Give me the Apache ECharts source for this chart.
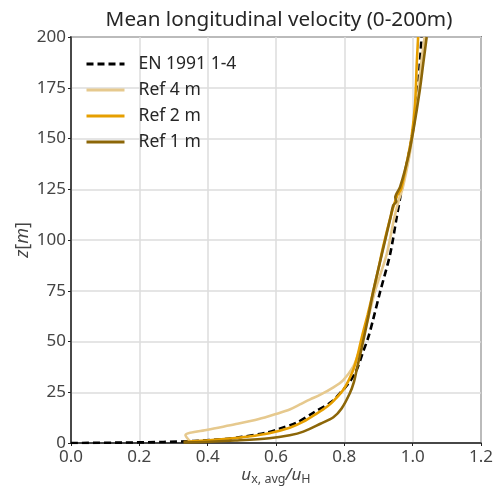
<!DOCTYPE html>
<html>
<head>
<meta charset="utf-8">
<script src="https://cdn.jsdelivr.net/npm/echarts@6/dist/echarts.min.js"></script>
<style>html,body{margin:0;padding:0;background:#fff}#c{width:494px;height:493px}</style>
</head>
<body>
<div id="c"></div>
<script>
// Data: [u/uH, z]
const xTicks = [0.0, 0.2, 0.4, 0.6, 0.8, 1.0, 1.2];
const yTicks = [0, 25, 50, 75, 100, 125, 150, 175, 200];
const seriesNames = ['EN 1991 1-4', 'Ref 4 m', 'Ref 2 m', 'Ref 1 m'];

const en1991 = [
  [0.0, 0], [0.15, 0.2], [0.27, 0.5], [0.36, 1], [0.45, 2], [0.50, 3], [0.57, 5], [0.61, 7],
  [0.66, 10], [0.71, 15], [0.76, 20], [0.79, 25], [0.815, 30], [0.836, 36], [0.855, 45],
  [0.870, 52], [0.883, 60], [0.904, 74], [0.934, 93], [0.953, 111], [0.968, 125],
  [0.997, 150], [1.013, 170], [1.021, 187], [1.026, 200]
];
const ref4 = [
  [0.35, 0.5], [0.335, 3.8], [0.40, 6.5], [0.48, 9.2], [0.55, 11.8], [0.60, 14.3], [0.64, 16.5],
  [0.67, 19], [0.70, 21.5], [0.73, 23.8], [0.768, 27.4], [0.797, 31], [0.826, 37.6], [0.841, 44],
  [0.852, 51], [0.872, 63], [0.89, 75], [0.924, 93], [0.945, 110], [0.96, 120], [0.97, 125],
  [0.99, 141], [1.0, 152], [1.015, 170], [1.025, 187], [1.035, 200]
];
const ref2 = [
  [0.33, 0.5], [0.44, 1.8], [0.52, 3.2], [0.58, 4.8], [0.64, 7.5], [0.68, 10.5], [0.72, 14.6],
  [0.75, 18], [0.77, 21], [0.80, 27], [0.826, 36], [0.84, 44], [0.851, 52], [0.868, 63],
  [0.885, 75], [0.90, 86], [0.914, 97], [0.938, 113], [0.955, 122], [0.966, 125], [0.985, 140],
  [0.997, 151], [1.007, 167], [1.012, 187], [1.016, 200]
];
const ref1 = [
  [0.33, 0.3], [0.39, 0.5], [0.48, 1.2], [0.58, 2.3], [0.64, 3.8], [0.68, 5.6], [0.73, 9.5],
  [0.768, 12.7], [0.792, 17], [0.816, 24.5], [0.828, 30], [0.836, 36], [0.851, 47], [0.87, 62],
  [0.885, 75], [0.914, 96], [0.935, 111], [0.943, 117], [0.952, 119], [0.949, 121], [0.963, 126],
  [0.987, 141], [1.002, 154], [1.021, 174], [1.031, 187], [1.041, 200]
];

const FONT = 'Noto Sans';
const chart = echarts.init(document.getElementById('c'), null, {renderer: 'canvas'});
const lineSeries = (name, data, color, dashed) => ({
  name, type: 'line', data, symbol: 'none', smooth: 0.3, clip: true,
  lineStyle: {color, width: 2.6, type: dashed ? [7, 4] : 'solid'},
  itemStyle: {color}
});
chart.setOption({
  animation: false,
  backgroundColor: '#fff',
  textStyle: {fontFamily: FONT},
  title: {
    text: 'Mean longitudinal velocity (0-200m)', left: 274, textAlign: 'center', top: 5,
    textStyle: {fontFamily: FONT, fontSize: 20.7, fontWeight: 'normal', color: '#262626'}
  },
  grid: {left: 71, right: 13, top: 37, bottom: 50, outerBoundsMode: 'none', containLabel: false,
    show: true, borderColor: '#222', borderWidth: 1.5},
  legend: {
    orient: 'vertical', left: 80, top: 50, itemWidth: 38, itemHeight: 14, itemGap: 8,
    data: seriesNames,
    itemStyle: {opacity: 0},
    lineStyle: {width: 3},
    textStyle: {fontFamily: FONT, fontSize: 17.5, color: '#262626', padding: [0, 0, 0, 9]}
  },
  xAxis: {
    type: 'value', min: 0, max: 1.2, interval: 0.2,
    name: '{i|u}{s|x, avg}{i|/u}{s|H}', nameLocation: 'middle', nameGap: 21, nameMoveOverlap: false,
    nameTextStyle: {
      rich: {
        i: {fontFamily: FONT, fontSize: 17, fontStyle: 'italic', color: '#444', lineHeight: 22},
        s: {fontFamily: FONT, fontSize: 12.5, color: '#444', verticalAlign: 'bottom', lineHeight: 13}
      }
    },
    axisLine: {show: true, lineStyle: {color: '#222', width: 1.5}},
    axisTick: {show: true, length: 3, lineStyle: {color: '#222'}},
    axisLabel: {fontFamily: FONT, fontSize: 17, color: '#444', margin: 6, formatter: v => v.toFixed(1)},
    splitLine: {show: true, lineStyle: {color: '#dcdcdc', width: 1.5}}
  },
  yAxis: {
    type: 'value', min: 0, max: 200, interval: 25,
    name: '{i|z}{n|[}{i|m}{n|]}', nameLocation: 'middle', nameGap: 39, nameRotate: 90, nameMoveOverlap: false,
    nameTextStyle: {
      rich: {
        i: {fontFamily: FONT, fontSize: 18, fontStyle: 'italic', color: '#444'},
        n: {fontFamily: FONT, fontSize: 18, color: '#444'}
      }
    },
    axisLine: {show: true, lineStyle: {color: '#222', width: 1.5}},
    axisTick: {show: true, length: 3, lineStyle: {color: '#222'}},
    axisLabel: {fontFamily: FONT, fontSize: 17, color: '#444', margin: 5},
    splitLine: {show: true, lineStyle: {color: '#dcdcdc', width: 1.5}}
  },
  series: [
    lineSeries(seriesNames[0], en1991, '#000000', true),
    lineSeries(seriesNames[1], ref4, '#e6c98e', false),
    lineSeries(seriesNames[2], ref2, '#e69f00', false),
    lineSeries(seriesNames[3], ref1, '#8c6608', false)
  ]
});
</script>
</body>
</html>
